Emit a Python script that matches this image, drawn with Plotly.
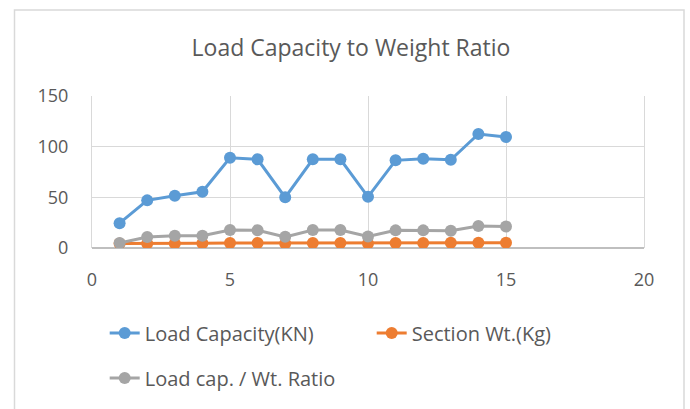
import plotly.graph_objects as go

x_vals = list(range(1, 16))
load_capacity = [24.5, 47, 51.5, 55.5, 89, 87.5, 50, 87.5, 87.5, 50.5, 86.5, 88, 87, 112.5, 109.5]
section_wt = [4.5, 4.4, 4.4, 4.6, 5.0, 5.0, 4.5, 5.0, 5.0, 4.5, 5.0, 5.0, 5.1, 5.2, 5.2]
ratio = [5.0, 10.8, 12.0, 12.0, 17.8, 17.6, 11.0, 17.8, 17.8, 11.3, 17.4, 17.4, 17.0, 21.8, 21.2]

names = ["Load Capacity(KN)", "Section Wt.(Kg)", "Load cap. / Wt. Ratio"]
colors = ["#5B9BD5", "#ED7D31", "#A5A5A5"]
x_ticks = [0, 5, 10, 15, 20]
y_ticks = [0, 50, 100, 150]

FONT = "'Open Sans', sans-serif"
TXT = "#595959"

fig = go.Figure()
series = [load_capacity, section_wt, ratio]
legends = ["legend", "legend", "legend2"]
for vals, name, col, lg in zip(series, names, colors, legends):
    fig.add_trace(go.Scatter(
        x=x_vals, y=vals, name=name, mode="lines+markers",
        line=dict(color=col, width=3),
        marker=dict(color=col, size=12),
        legend=lg,
    ))

fig.update_layout(
    width=690, height=409,
    margin=dict(l=92, r=46, t=96, b=161),
    paper_bgcolor="white", plot_bgcolor="white",
    font=dict(family=FONT, color=TXT, size=16),
    title=dict(text="Load Capacity to Weight Ratio", x=351 / 690, xanchor="center",
               y=1 - 48 / 409, yanchor="middle", xref="container",
               font=dict(size=23, color=TXT, family=FONT)),
    showlegend=True,
    legend=dict(orientation="h", x=0.023, xanchor="left", y=(248 - 333) / 152, yanchor="middle",
                font=dict(size=20, color=TXT, family=FONT), entrywidth=222, entrywidthmode="pixels",
                bgcolor="rgba(0,0,0,0)"),
    legend2=dict(orientation="h", x=0.023, xanchor="left", y=(248 - 378) / 152, yanchor="middle",
                 font=dict(size=20, color=TXT, family=FONT), bgcolor="rgba(0,0,0,0)"),
)

fig.update_xaxes(range=[0, 20], tickvals=x_ticks, showgrid=True, gridcolor="#D9D9D9", gridwidth=1,
                 zeroline=False, showline=False, ticks="", ticklabelstandoff=19,
                 tickfont=dict(size=18, color=TXT))
fig.update_yaxes(range=[0, 150], tickvals=y_ticks, showgrid=True, gridcolor="#D9D9D9", gridwidth=1,
                 zeroline=True, zerolinecolor="#BFBFBF", zerolinewidth=1.5,
                 showline=True, linecolor="#D9D9D9", linewidth=1, mirror=True, ticks="",
                 ticklabelstandoff=19, tickfont=dict(size=18, color=TXT))

# outer chart border
fig.add_shape(type="rect", xref="paper", yref="paper",
              x0=(14.5 - 92) / 552, x1=(684 - 92) / 552,
              y0=(248 - 420) / 152, y1=(248 - 10) / 152,
              line=dict(color="#D9D9D9", width=1.5), fillcolor="rgba(0,0,0,0)", layer="below")

fig.write_html("out.html", config={"displayModeBar": False},
               post_script="document.body.style.margin='0';")
